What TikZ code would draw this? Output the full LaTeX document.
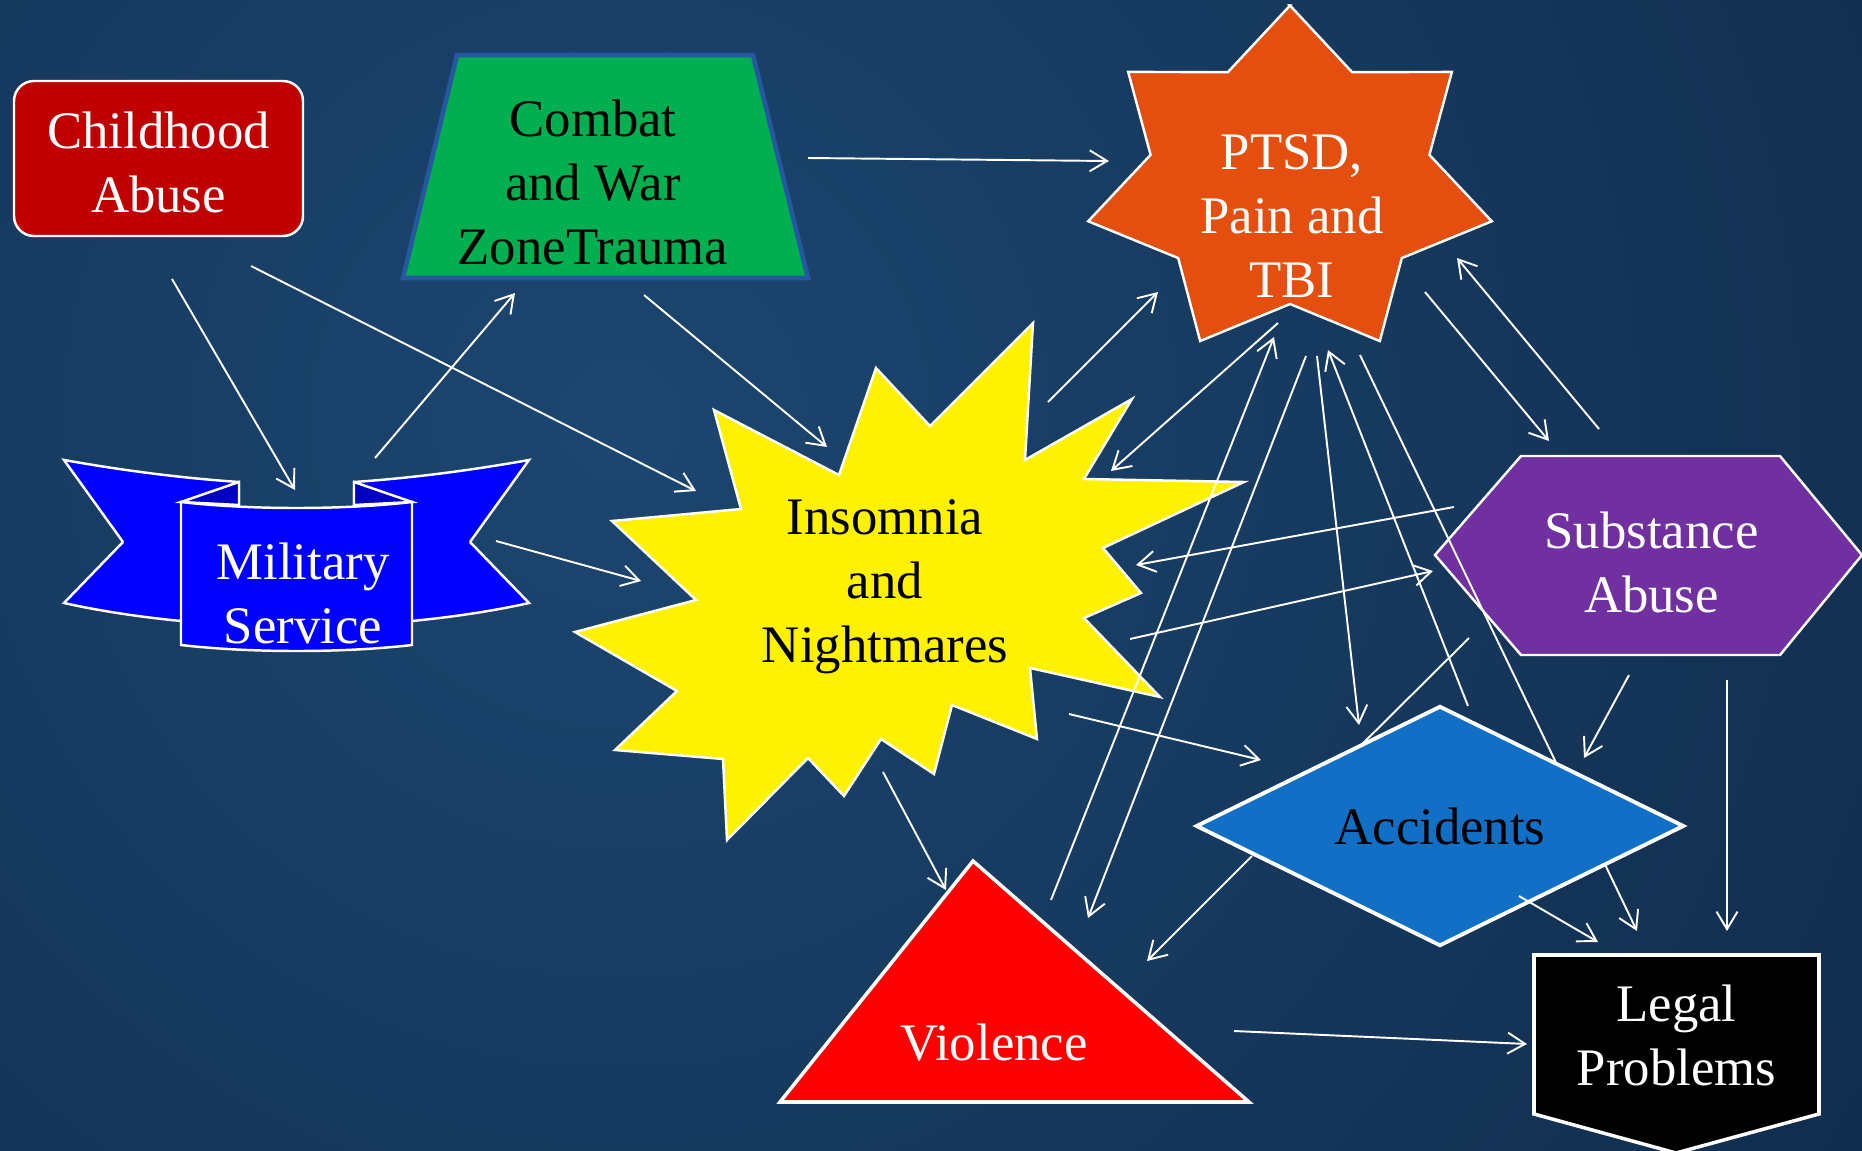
\documentclass[tikz,border=0pt]{standalone}
\usepackage{fontspec}
\setmainfont{Liberation Serif}
\usetikzlibrary{arrows.meta,shapes.geometric,calc}
\definecolor{bgin}{RGB}{28,70,112}
\definecolor{bgout}{RGB}{10,31,58}
\definecolor{abusered}{RGB}{192,0,0}
\definecolor{combatgreen}{RGB}{0,176,80}
\definecolor{combatedge}{RGB}{37,88,160}
\definecolor{ptsdorange}{RGB}{228,78,14}
\definecolor{ribbonblue}{RGB}{0,0,255}
\definecolor{ribbonfold}{RGB}{0,0,192}
\definecolor{subpurple}{RGB}{112,48,160}
\definecolor{accblue}{RGB}{17,112,198}
\pgfdeclarelayer{backdrop}
\pgfsetlayers{backdrop,main}

\begin{document}
\begin{tikzpicture}[x=0.01cm, y=-0.01cm,
  lbl/.style={align=center, inner sep=0pt, font=\fontsize{15}{18.2}\selectfont},
  edgeline/.style={draw=white, line width=0.7pt},
  arr/.style={draw=white, line width=0.55pt, -{Straight Barb[length=1.75mm, width=2.1mm]}}
]
\useasboundingbox (0,0) rectangle (1862,1151);
\begin{pgfonlayer}{backdrop}
\begin{scope}
  \clip (0,0) rectangle (1862,1151);
  \shade[inner color=bgin, outer color=bgout] (620,420) circle[radius=22.4cm];
\end{scope}
\end{pgfonlayer}

\filldraw[fill=abusered, edgeline, rounded corners=2mm] (14,81) rectangle (303,236);
\node[lbl, text=white] (cha) at (158.5,162.5) {Childhood\\Abuse};

\filldraw[fill=combatgreen, draw=combatedge, line width=1.3pt] (457,55) -- (753,55) -- (808,278) -- (403,278) -- cycle;
\node[lbl] (cwt) at (593,182) {Combat\\and War\\ZoneTrauma};

\fill[ribbonblue] (64,460) .. controls (120,470) and (180,478) .. (239,482) -- (239,621) -- (181,621) .. controls (140,617) and (100,611) .. (64,603) -- (123,542) -- cycle;
\draw[edgeline] (123,542) -- (64,460) .. controls (120,470) and (180,478) .. (239,482) -- (239,505);
\draw[edgeline] (181,621) .. controls (140,617) and (100,611) .. (64,603) -- (123,542);
\fill[ribbonblue] (529,460) .. controls (473,470) and (413,478) .. (354,482) -- (354,621) -- (412,621) .. controls (453,617) and (493,611) .. (529,603) -- (470,542) -- cycle;
\draw[edgeline] (470,542) -- (529,460) .. controls (473,470) and (413,478) .. (354,482) -- (354,505);
\draw[edgeline] (412,621) .. controls (453,617) and (493,611) .. (529,603) -- (470,542);
\filldraw[fill=ribbonfold, edgeline] (239,482) -- (181,502) -- (239,505) -- cycle;
\filldraw[fill=ribbonfold, edgeline] (354,482) -- (412,502) -- (354,505) -- cycle;
\filldraw[fill=ribbonblue, edgeline] (181,502) .. controls (250,510) and (343,510) .. (412,502) -- (412,645) .. controls (343,653) and (250,653) .. (181,645) -- cycle;
\node[lbl, text=white] (mil) at (303,593) {Military\\Service};

\filldraw[fill=ptsdorange, edgeline] (1290,5.5) \foreach \k in {0,...,6}{ -- ({1290+143*cos(295.71+51.43*\k)},{182+122*sin(295.71+51.43*\k)}) -- ({1290+207*cos(321.43+51.43*\k)},{182+176.5*sin(321.43+51.43*\k)}) } -- cycle;
\node[lbl, text=white] (ptsd) at (1292,216.5) {PTSD,\\Pain and\\TBI};

\filldraw[fill=yellow, edgeline] (1033,323) -- (1025,460) -- (1132,399) -- (1084,479) -- (1244,482) -- (1103,548) -- (1141,593) -- (1084,618) -- (1160,697) -- (1030,668) -- (1037,739) -- (952,705) -- (934,774) -- (881,739) -- (844,796) -- (808,758) -- (727,840) -- (723,759) -- (615,750) -- (677,691) -- (575,632) -- (696,600) -- (612,521) -- (741,509) -- (714,410) -- (839,475) -- (876,368) -- (930,426) -- cycle;
\node[lbl] (ins) at (885,587) {Insomnia\\and\\Nightmares};

\filldraw[fill=red, draw=white, line width=1pt] (973,861) -- (1249,1102) -- (780,1102) -- cycle;
\node[lbl, text=white] (vio) at (994,1043) {Violence};

\filldraw[fill=black, draw=white, line width=1pt] (1534,955) -- (1819,955) -- (1819,1114) -- (1676,1153) -- (1534,1114) -- cycle;
\node[lbl, text=white] (leg) at (1676.5,1035.5) {Legal\\Problems};

\node[lbl, diamond, aspect=2, minimum width=4.88cm, minimum height=2.4cm, fill=accblue, draw=white, line width=1.1pt] (acc) at (1440,826) {Accidents};

\begin{pgfonlayer}{backdrop}
\filldraw[fill=subpurple, edgeline] (1435,555) -- (1521,456) -- (1780,456) -- (1862,555) -- (1780,655) -- (1521,655) -- cycle;
\node[lbl, text=white] (sub) at (1651.5,562) {Substance\\Abuse};
\draw[arr] ($(ptsd)+(68,138.5)$) -- ($(leg)+(-39.5,-104.5)$);
\draw[arr] ($(sub)+(-182.5,76)$) -- ($(acc)+(-120,-40)$);
\end{pgfonlayer}

\draw[arr] ($(cha)+(13.5,116.5)$) -- ($(mil)+(-8,-103)$);
\draw[arr] ($(cha)+(92.5,103.5)$) -- ($(ins)+(-189,-96)$);
\draw[arr] ($(mil)+(72,-135)$) -- ($(cwt)+(-78,111)$);
\draw[arr] ($(cwt)+(51,113)$) -- ($(ins)+(-58,-140)$);
\draw[arr] ($(cwt)+(215,-24)$) -- ($(ptsd)+(-183,-55.5)$);
\draw[arr] ($(mil)+(193,-52)$) -- ($(ins)+(-244,-6)$);
\draw[arr] ($(ins)+(163,-185)$) -- ($(ptsd)+(-134,75.5)$);
\draw[arr] ($(ptsd)+(-14,106.5)$) -- ($(ins)+(226,-116)$);
\draw[arr] ($(vio)+(57,-143)$) -- ($(ptsd)+(-18,120.5)$);
\draw[arr] ($(ptsd)+(14,139.5)$) -- ($(vio)+(94,-125)$);
\draw[arr] ($(ptsd)+(25,139.5)$) -- ($(acc)+(-81,-101)$);
\draw[arr] ($(acc)+(28,-120)$) -- ($(ptsd)+(36,133.5)$);
\draw[arr] ($(ptsd)+(133,75.5)$) -- ($(sub)+(-102.5,-121)$);
\draw[arr] ($(sub)+(-52.5,-133)$) -- ($(ptsd)+(165,41.5)$);
\draw[arr] ($(sub)+(-197.5,-55)$) -- ($(ins)+(251,-22)$);
\draw[arr] ($(ins)+(245,52)$) -- ($(sub)+(-218.5,9)$);
\draw[arr] ($(ins)+(184,127)$) -- ($(acc)+(-179,-66)$);
\draw[arr] ($(ins)+(-2,185)$) -- ($(vio)+(-48,-153)$);
\draw[arr] ($(sub)+(-22.5,113)$) -- ($(acc)+(144,-68)$);
\draw[arr] ($(sub)+(75.5,118)$) -- ($(leg)+(50.5,-104.5)$);
\draw[arr] ($(acc)+(-188,30)$) -- ($(vio)+(153,-82)$);
\draw[arr] ($(acc)+(79,70)$) -- ($(leg)+(-78.5,-93.5)$);
\draw[arr] ($(vio)+(240,-12)$) -- ($(leg)+(-149.5,8.5)$);
\end{tikzpicture}
\end{document}
